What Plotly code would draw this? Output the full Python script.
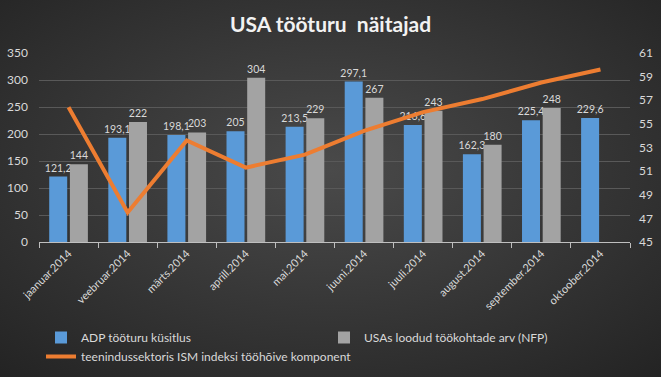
import base64
import plotly.graph_objects as go

months = ["jaanuar.2014", "veebruar.2014", "märts.2014", "aprill.2014", "mai.2014",
          "juuni.2014", "juuli.2014", "august.2014", "september.2014", "oktoober.2014"]
adp = [121.2, 193.1, 198.1, 205, 213.5, 297.1, 216.6, 162.3, 225.4, 229.6]
nfp = [144, 222, 203, 304, 229, 267, 243, 180, 248, None]
ism = [56.4, 47.5, 53.6, 51.3, 52.4, 54.4, 56.0, 57.1, 58.5, 59.6]

left_ticks = [0, 50, 100, 150, 200, 250, 300, 350]
right_ticks = [45, 47, 49, 51, 53, 55, 57, 59, 61]


def fmt(v):
    if v is None:
        return ""
    s = ("%g" % v).replace(".", ",")
    return s


W, H = 661, 377
ML, MR, MT, MB = 39, 31, 53, 135
PW, PH = W - ML - MR, H - MT - MB

svg = f'''<svg xmlns="http://www.w3.org/2000/svg" width="{W}" height="{H}" viewBox="0 0 {W} {H}" preserveAspectRatio="none">
<defs><radialGradient id="g" cx="50%" cy="45%" r="75%">
<stop offset="0%" stop-color="#4a4a4a"/><stop offset="100%" stop-color="#232323"/>
</radialGradient></defs><rect width="{W}" height="{H}" fill="url(#g)"/></svg>'''
bg = "data:image/svg+xml;base64," + base64.b64encode(svg.encode()).decode()

lbl = "#D9D9D9"
font = "Lato, 'Open Sans', sans-serif"

fig = go.Figure()
fig.add_trace(go.Bar(
    x=months, y=adp, name="ADP tööturu küsitlus",
    marker=dict(color="#5A9AD8", line=dict(width=0)),
    text=[fmt(v) for v in adp], textposition="outside", constraintext="none",
    textfont=dict(color=lbl, size=10.5, family=font), cliponaxis=False,
))
fig.add_trace(go.Bar(
    x=months, y=nfp, name="USAs loodud töökohtade arv (NFP)",
    marker=dict(color="#A3A3A3", line=dict(width=0)),
    text=[fmt(v) for v in nfp], textposition="outside", constraintext="none",
    textfont=dict(color=lbl, size=10.5, family=font), cliponaxis=False,
))
fig.add_trace(go.Scatter(
    x=months, y=ism, name="teenindussektoris ISM indeksi tööhõive komponent",
    mode="lines", line=dict(color="#ED7D31", width=4), yaxis="y2",
))

fig.update_layout(
    width=W, height=H,
    margin=dict(l=ML, r=MR, t=MT, b=MB, pad=0, autoexpand=False),
    paper_bgcolor="#333333", plot_bgcolor="rgba(0,0,0,0)",
    images=[dict(source=bg, xref="paper", yref="paper",
                 x=-ML / PW, y=1 + MT / PH, sizex=W / PW, sizey=H / PH,
                 sizing="stretch", xanchor="left", yanchor="top", layer="below")],
    title=dict(text="<b>USA tööturu \u00a0näitajad</b>", x=0.5, xref="container",
               y=1 - 25 / H, yref="container", xanchor="center", yanchor="middle",
               font=dict(size=21, color="#F2F2F2", family=font)),
    barmode="group", bargap=0.3, bargroupgap=0.13,
    font=dict(family=font, color=lbl, size=12),
    showlegend=True,
    legend=dict(orientation="h", x=(41 - ML) / PW, xanchor="left",
                y=(242 - 323) / PH, yanchor="top",
                entrywidth=238, entrywidthmode="pixels",
                font=dict(size=12, color=lbl, family=font),
                bgcolor="rgba(0,0,0,0)", borderwidth=0),
    xaxis=dict(type="category", showline=True, linecolor="#BFBFBF", linewidth=1,
               ticks="outside", tickson="boundaries", ticklen=5, tickcolor="#BFBFBF",
               tickangle=-45, tickfont=dict(size=11, color=lbl, family=font),
               showgrid=False, zeroline=False, automargin=False),
    yaxis=dict(range=[0, 350], tickvals=left_ticks, showgrid=True, gridcolor="#595959",
               gridwidth=1, zeroline=False, showline=False, ticks="", automargin=False,
               ticklabelstandoff=10, tickfont=dict(size=12, color=lbl, family=font)),
    yaxis2=dict(range=[45, 61], tickvals=right_ticks, overlaying="y", side="right",
                showgrid=False, zeroline=False, showline=False, ticks="", automargin=False,
                ticklabelstandoff=8, tickfont=dict(size=12, color=lbl, family=font)),
)

fig.write_html("out.html", config={"displayModeBar": False},
               post_script="document.body.style.margin='0';")
